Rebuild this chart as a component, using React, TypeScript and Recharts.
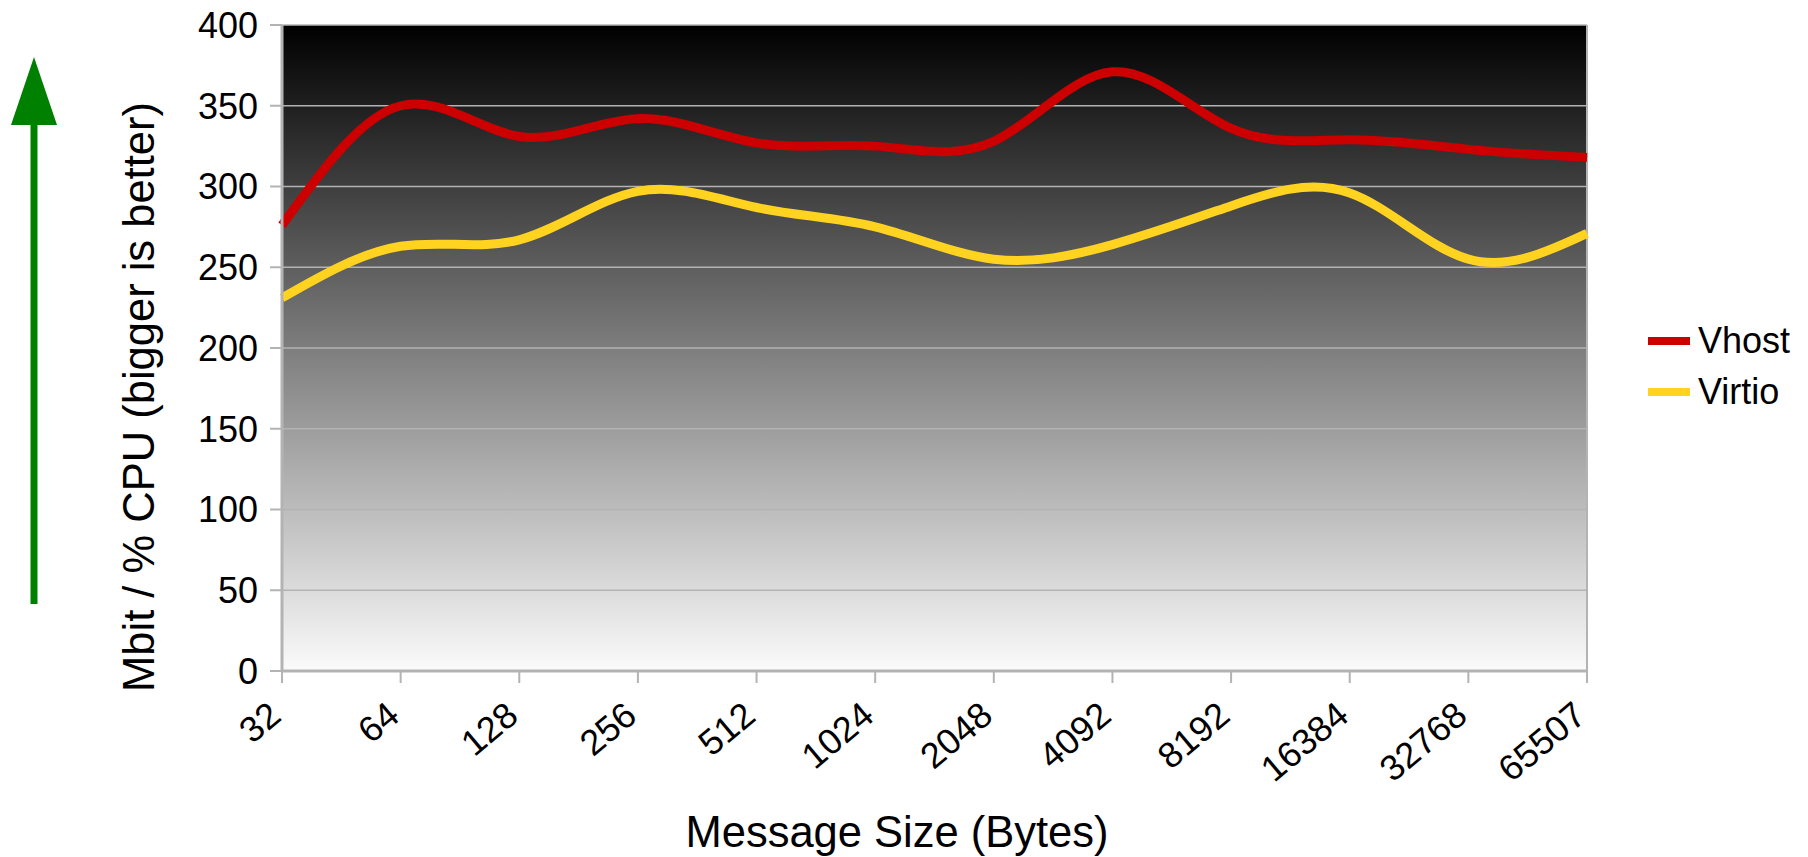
import React from 'react';
import { LineChart, Line, XAxis, YAxis, CartesianGrid, Legend, ReferenceLine } from 'recharts';

// message sizes on the x axis (bytes)
const sizes = ['32', '64', '128', '256', '512', '1024', '2048', '4092', '8192', '16384', '32768', '65507'];
// throughput per CPU, Mbit / % CPU
const vhost = [276, 350, 331, 342, 327, 325, 328, 371, 336, 329, 323, 318];
const virtio = [231, 263, 267, 297, 287, 275, 255, 264, 288, 296, 255, 271];
const yTicks = [0, 50, 100, 150, 200, 250, 300, 350, 400];
const seriesNames = ['Vhost', 'Virtio'];
const seriesColors = ['#cc0000', '#ffd320'];

const data = sizes.map((size, i) => ({ size, Vhost: vhost[i], Virtio: virtio[i] }));

const FONT = '"Liberation Sans", Arial, sans-serif';
const GRID = '#b3b3b3';

const SizeTick = ({ x, y, payload }: any) => (
  <text
    transform={`translate(${x + 1},${y + 36}) rotate(-40)`}
    textAnchor="end"
    fontSize={36}
    fontFamily={FONT}
    fill="#000"
  >
    {payload.value}
  </text>
);

const LegendBox = () => (
  <div style={{ fontFamily: FONT, fontSize: 36, color: '#000' }}>
    {seriesNames.map((name, i) => (
      <div key={name} style={{ display: 'flex', alignItems: 'center', height: 51 }}>
        <span style={{ display: 'inline-block', width: 42, height: 8, background: seriesColors[i], marginRight: 8 }} />
        <span>{name}</span>
      </div>
    ))}
  </div>
);

export default function App() {
  return (
    <div style={{ position: 'absolute', left: 0, top: 0, width: 1808, height: 857, background: '#fff' }}>
      <svg width={70} height={620} style={{ position: 'absolute', left: 0, top: 0 }}>
        <rect x={30.5} y={118} width={7} height={486} fill="#008000" />
        <polygon points="11,125 34,57 57,125" fill="#008000" />
      </svg>
      <LineChart
        width={1808}
        height={857}
        data={data}
        margin={{ top: 25, right: 221, bottom: 0, left: 0 }}
        style={{ fontFamily: FONT }}
      >
        <defs>
          <linearGradient id="plotBg" x1="0" y1="0" x2="0" y2="1">
            <stop offset="0%" stopColor="#000000" />
            <stop offset="100%" stopColor="#fbfbfb" />
          </linearGradient>
        </defs>
        <CartesianGrid vertical={false} stroke={GRID} strokeWidth={1.5} fill="url(#plotBg)" fillOpacity={1} />
        <XAxis
          dataKey="size"
          height={186}
          interval={0}
          tickSize={12}
          tickMargin={0}
          axisLine={{ stroke: GRID, strokeWidth: 3 }}
          tickLine={{ stroke: GRID, strokeWidth: 2 }}
          tick={<SizeTick />}
          label={() => (
            <text x={897} y={847} textAnchor="middle" fontSize={43.5} fontFamily={FONT} fill="#000">
              Message Size (Bytes)
            </text>
          )}
        />
        <YAxis
          width={282}
          domain={[0, 400]}
          ticks={yTicks}
          tickSize={12}
          tickMargin={12}
          axisLine={{ stroke: GRID, strokeWidth: 3 }}
          tickLine={{ stroke: GRID, strokeWidth: 2 }}
          tick={{ fontSize: 36, fill: '#000', fontFamily: FONT }}
          label={() => (
            <text
              x={154}
              y={397}
              transform="rotate(-90 154 397)"
              textAnchor="middle"
              fontSize={43.5}
              fontFamily={FONT}
              fill="#000"
            >
              Mbit / % CPU (bigger is better)
            </text>
          )}
        />
        <ReferenceLine x={sizes[sizes.length - 1]} stroke={GRID} strokeWidth={2} />
        <Legend
          layout="horizontal"
          verticalAlign="middle"
          align="center"
          wrapperStyle={{ left: 1648, top: 315, width: 160, height: 102 }}
          content={<LegendBox />}
        />
        {seriesNames.map((name, i) => (
          <Line
            key={name}
            type="natural"
            dataKey={name}
            stroke={seriesColors[i]}
            strokeWidth={9}
            dot={false}
            activeDot={false}
            isAnimationActive={false}
          />
        ))}
      </LineChart>
    </div>
  );
}
